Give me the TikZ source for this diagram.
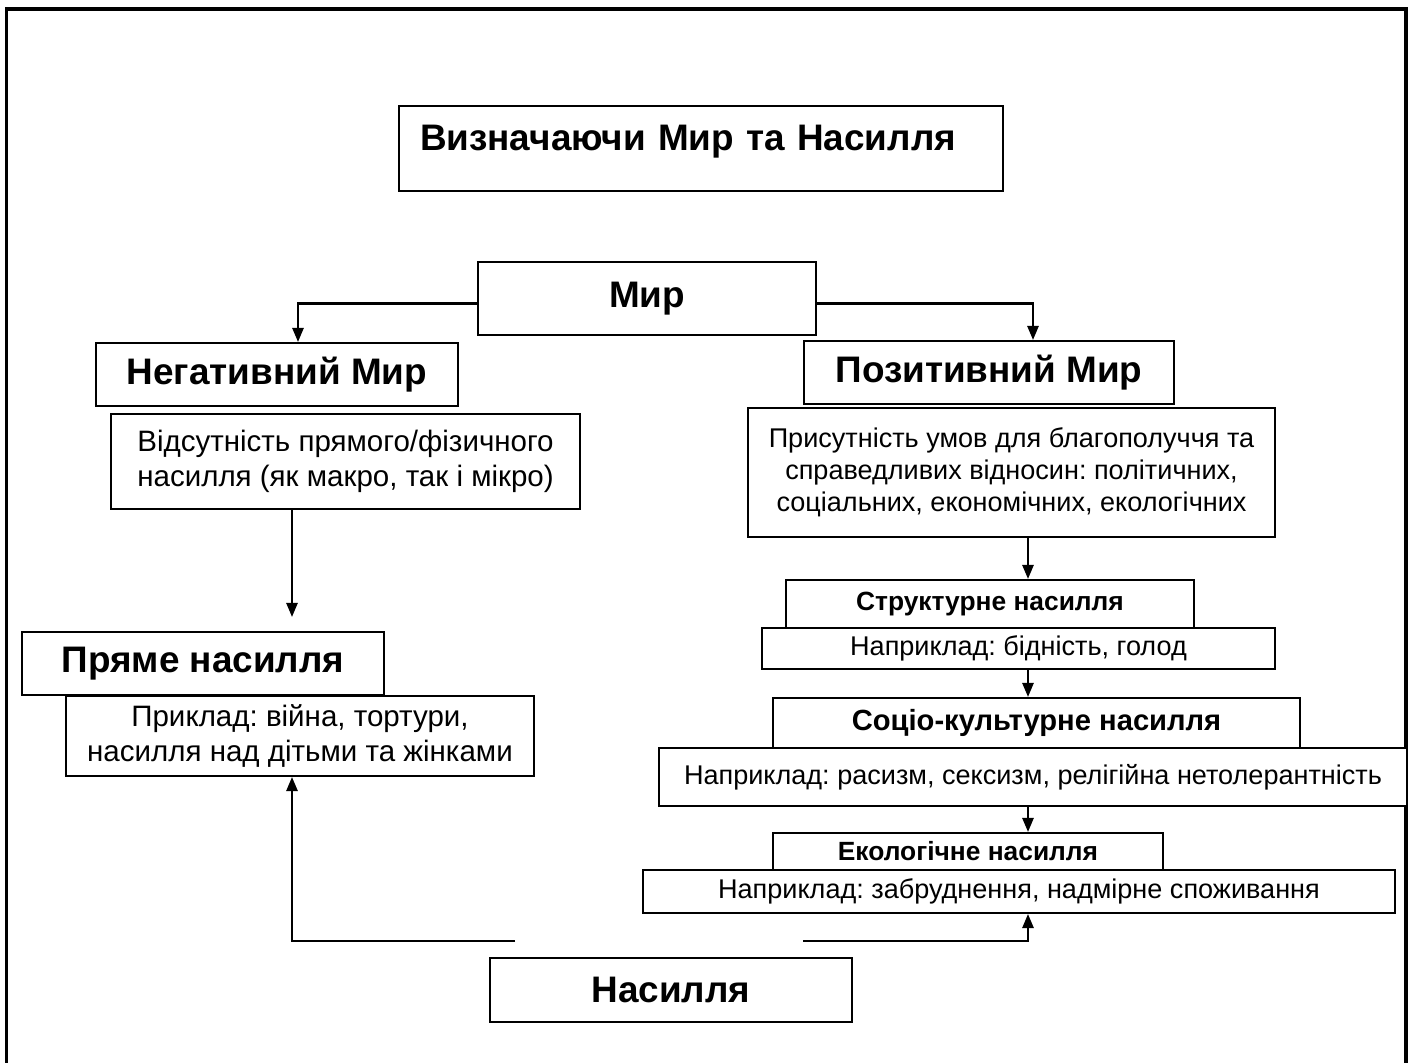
\documentclass[tikz,border=0pt]{standalone}
\usepackage{fontspec}
\setmainfont{Liberation Sans}
\usetikzlibrary{arrows.meta,calc}
\frenchspacing

\begin{document}
\begin{tikzpicture}[
    box/.style={draw, line width=0.6pt, fill=white, inner sep=0pt, align=center},
    headfont/.style={font=\fontsize{10.5}{12.4}\selectfont\bfseries},
    subfont/.style={font=\fontsize{7.5}{9}\selectfont\bfseries},
    leftfont/.style={font=\fontsize{8.4}{9.96}\selectfont},
    rightfont/.style={font=\fontsize{7.7}{9.1}\selectfont},
    link/.style={line width=0.6pt, -{Triangle[length=4pt,width=3.2pt]}}
]
    \useasboundingbox (0,0) rectangle (14.14,10.63);

    % Frame
    \draw[line width=0.9pt] (0.065,0) -- (0.065,10.54) -- (14.06,10.54) -- (14.06,0);

    % Title
    \node[box, headfont, minimum width=6.04cm, text width=5.62cm, align=left,
          text height=0.45cm, text depth=0.40cm, inner xsep=0.21cm] (title) at (7.01,9.145)
        {Визначаючи Мир та Насилля};

    % Peace
    \node[box, headfont, minimum width=3.38cm, minimum height=0.73cm] (mir) at (6.47,7.645) {Мир};

    % Negative peace
    \node[box, headfont, minimum width=3.62cm, minimum height=0.63cm] (neg) at (2.77,6.885) {Негативний Мир};
    \node[box, leftfont, minimum width=4.69cm, minimum height=0.95cm] (negdesc) at (3.455,6.015)
        {Відсутність прямого/фізичного\\насилля (як макро, так і мікро)};

    % Direct violence
    \node[box, headfont, minimum width=3.62cm, minimum height=0.63cm] (direct) at (2.03,3.995) {Пряме насилля};
    \node[box, leftfont, minimum width=4.68cm, minimum height=0.80cm] (directex) at (3.00,3.27)
        {Приклад: війна, тортури,\\насилля над дітьми та жінками};

    % Positive peace
    \node[box, headfont, minimum width=3.70cm, minimum height=0.63cm] (pos) at (9.89,6.905) {Позитивний Мир};
    \node[box, rightfont, minimum width=5.27cm, minimum height=1.29cm] (posdesc) at (10.115,5.905)
        {Присутність умов для благополуччя та\\справедливих відносин: політичних,\\соціальних, економічних, екологічних};

    % Structural violence
    \node[box, subfont, minimum width=4.08cm, minimum height=0.48cm] (struct) at (9.90,4.59) {Структурне насилля};
    \node[box, rightfont, minimum width=5.13cm, minimum height=0.41cm] (structex) at (10.185,4.145)
        {Наприклад: бідність, голод};

    % Socio-cultural violence
    \node[box, subfont, font=\fontsize{8.3}{9.8}\selectfont\bfseries, minimum width=5.27cm, minimum height=0.50cm]
        (cult) at (10.365,3.40) {Соціо-культурне насилля};
    \node[box, rightfont, minimum width=7.48cm, minimum height=0.58cm] (cultex) at (10.33,2.86)
        {Наприклад: расизм, сексизм, релігійна нетолерантність};

    % Ecological violence
    \node[box, subfont, minimum width=3.90cm, minimum height=0.37cm] (eco) at (9.68,2.115) {Екологічне насилля};
    \node[box, rightfont, minimum width=7.52cm, minimum height=0.43cm] (ecoex) at (10.19,1.715)
        {Наприклад: забруднення, надмірне споживання};

    % Violence
    \node[box, headfont, minimum width=3.62cm, minimum height=0.64cm] (viol) at (6.71,0.73) {Насилля};

    % Line positions
    \coordinate (lx) at (2.92,0);
    \coordinate (rx) at (10.28,0);
    \coordinate (gl) at (5.15,1.22);
    \coordinate (gr) at (8.03,1.22);

    % Arrows from peace
    \draw[link] ([yshift=-0.05cm]mir.west) -| ([xshift=0.21cm]neg.north);
    \draw[link] ([yshift=-0.05cm]mir.east) -| ([xshift=0.44cm]pos.north);
    \draw[link, shorten >=0.14cm] (negdesc.south -| lx) -- (direct.north -| lx);
    \draw[link] (posdesc.south -| rx) -- (struct.north -| rx);
    \draw[link] (structex.south -| rx) -- (cult.north -| rx);
    \draw[link] (cultex.south -| rx) -- (eco.north -| rx);

    % Arrows from violence
    \draw[link] (gl) -| (directex.south -| lx);
    \draw[link] (gr) -| (ecoex.south -| rx);
\end{tikzpicture}
\end{document}
